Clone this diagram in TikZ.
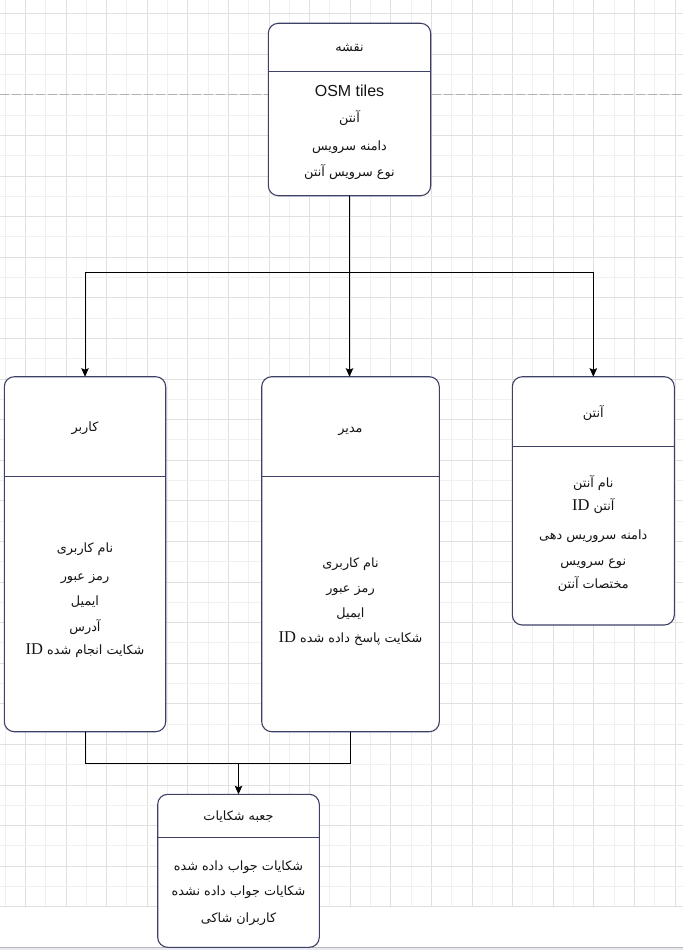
\documentclass[tikz,border=0pt]{standalone}
\usepackage{fontspec}
\usetikzlibrary{arrows.meta}
\TeXXeTstate=1
\newfontfamily\fa[Script=Arabic]{DejaVu Sans}
\newfontfamily\osmfont{Liberation Sans}
\newfontfamily\idfont{Liberation Serif}
\definecolor{gridlight}{RGB}{240,240,240}
\definecolor{griddark}{RGB}{224,224,224}
\definecolor{boxline}{RGB}{62,64,102}
\definecolor{txt}{RGB}{20,20,20}
\definecolor{bottomband}{RGB}{232,232,240}
\tikzset{
  boxshape/.style={draw=boxline, fill=white, line width=1.1pt, rounded corners=10pt, anchor=north west, inner sep=0pt, outer sep=0pt},
  divider/.style={draw=boxline, line width=1.1pt},
  fatext/.style={anchor=base, inner sep=0pt, text=txt, font=\fa\fontsize{12.8}{15}\selectfont},
  conn/.style={draw=black, line width=1pt},
  arr/.style={conn, -{Stealth[length=8.5pt,width=7.5pt,inset=1.5pt]}},
}
\newcommand{\rtl}[1]{\beginR #1\endR}
\newcommand{\idtxt}{{\idfont\fontsize{16.5}{18}\selectfont\beginL ID\endL}}
\begin{document}
\begin{tikzpicture}[x=1pt,y=-1pt]
\useasboundingbox (0,0) rectangle (683,950);
\fill[white] (0,0) rectangle (683,950);
% grid
\foreach \i in {0,...,33}{
  \pgfmathsetmacro\xx{5+20.3*\i}
  \pgfmathparse{int(mod(\i,2))}
  \ifnum\pgfmathresult=0
    \draw[gridlight, line width=0.75pt] (\xx,0) -- (\xx,906.7);
  \else
    \draw[griddark, line width=0.75pt] (\xx,0) -- (\xx,906.7);
  \fi
}
\foreach \k in {0,...,44}{
  \pgfmathsetmacro\yy{13.5+20.3*\k}
  \pgfmathparse{int(mod(\k,2))}
  \ifnum\pgfmathresult=0
    \draw[griddark, line width=0.75pt] (0,\yy) -- (683,\yy);
  \else
    \draw[gridlight, line width=0.75pt] (0,\yy) -- (683,\yy);
  \fi
}
\draw[gray!60, line width=0.8pt, dash pattern=on 9pt off 3pt] (0,94.7) -- (683,94.7);
\fill[bottomband] (0,947.5) rectangle (683,950);
\draw[gray!55, line width=0.8pt] (0,947.5) -- (683,947.5);

% boxes
\node[boxshape, minimum width=162.4pt, minimum height=172.4pt] (map) at (268.3,23.3) {};
\node[boxshape, minimum width=161.4pt, minimum height=355pt] (user) at (4.3,376.7) {};
\node[boxshape, minimum width=177.6pt, minimum height=355pt] (admin) at (261.7,376.7) {};
\node[boxshape, minimum width=162pt, minimum height=248.3pt] (ant) at (512.3,376.7) {};
\node[boxshape, minimum width=161.6pt, minimum height=153pt] (cbox) at (157.7,794.3) {};

% dividers
\draw[divider] (268.3,71.7) -- (430.7,71.7);
\draw[divider] (4.3,476.7) -- (165.7,476.7);
\draw[divider] (261.7,476.7) -- (439.3,476.7);
\draw[divider] (512.3,446.3) -- (674.3,446.3);
\draw[divider] (157.7,837.3) -- (319.3,837.3);

% map texts
\node[fatext] (mapT) at (349.5,52) {\rtl{نقشه}};
\node[anchor=base, inner sep=0pt, text=txt, font=\osmfont\fontsize{16}{18}\selectfont] (mapL1) at (349.5,96.7) {OSM tiles};
\node[fatext] (mapL2) at (349.5,122) {\rtl{آنتن}};
\node[fatext] (mapL3) at (349.5,150) {\rtl{دامنه سرویس}};
\node[fatext] (mapL4) at (349.5,176) {\rtl{نوع سرویس آنتن}};

% user texts
\node[fatext] (userT) at (85,431) {\rtl{کاربر}};
\node[fatext] (userL1) at (85,552) {\rtl{نام کاربری}};
\node[fatext] (userL2) at (85,580) {\rtl{رمز عبور}};
\node[fatext] (userL3) at (85,605) {\rtl{ایمیل}};
\node[fatext] (userL4) at (85,631) {\rtl{آدرس}};
\node[fatext] (userL5) at (85,654) {\rtl{شکایت انجام شده \idtxt}};

% admin texts
\node[fatext] (adminT) at (350.5,432) {\rtl{مدیر}};
\node[fatext] (adminL1) at (350.5,567) {\rtl{نام کاربری}};
\node[fatext] (adminL2) at (350.5,592) {\rtl{رمز عبور}};
\node[fatext] (adminL3) at (350.5,617) {\rtl{ایمیل}};
\node[fatext] (adminL4) at (350.5,642.7) {\rtl{شکایت پاسخ داده شده \idtxt}};

% antenna texts
\node[fatext] (antT) at (593.3,417) {\rtl{آنتن}};
\node[fatext] (antL1) at (593.3,487) {\rtl{نام آنتن}};
\node[fatext] (antL2) at (593.3,510.7) {\rtl{آنتن \idtxt}};
\node[fatext] (antL3) at (593.3,539) {\rtl{دامنه سروریس دهی}};
\node[fatext] (antL4) at (593.3,565) {\rtl{نوع سرویس}};
\node[fatext] (antL5) at (593.3,588) {\rtl{مختصات آنتن}};

% complaint box texts
\node[fatext] (cboxT) at (238.5,820) {\rtl{جعبه شکایات}};
\node[fatext] (cboxL1) at (238.5,870) {\rtl{شکایات جواب داده شده}};
\node[fatext] (cboxL2) at (238.5,895) {\rtl{شکایات جواب داده نشده}};
\node[fatext] (cboxL3) at (238.5,922) {\rtl{کاربران شاکی}};

% connectors
\coordinate (j1) at (map.south |- 0,272);
\coordinate (j2) at (cbox.north |- 0,763);
\draw[conn] (map.south) -- (j1);
\draw[arr] (j1) -| (user.north);
\draw[arr] (j1) -- (admin.north -| j1);
\draw[arr] (j1) -| (ant.north);
\draw[conn] (user.south) |- (j2);
\draw[conn] (admin.south) |- (j2);
\draw[arr] (j2) -- (cbox.north);
\end{tikzpicture}
\end{document}
